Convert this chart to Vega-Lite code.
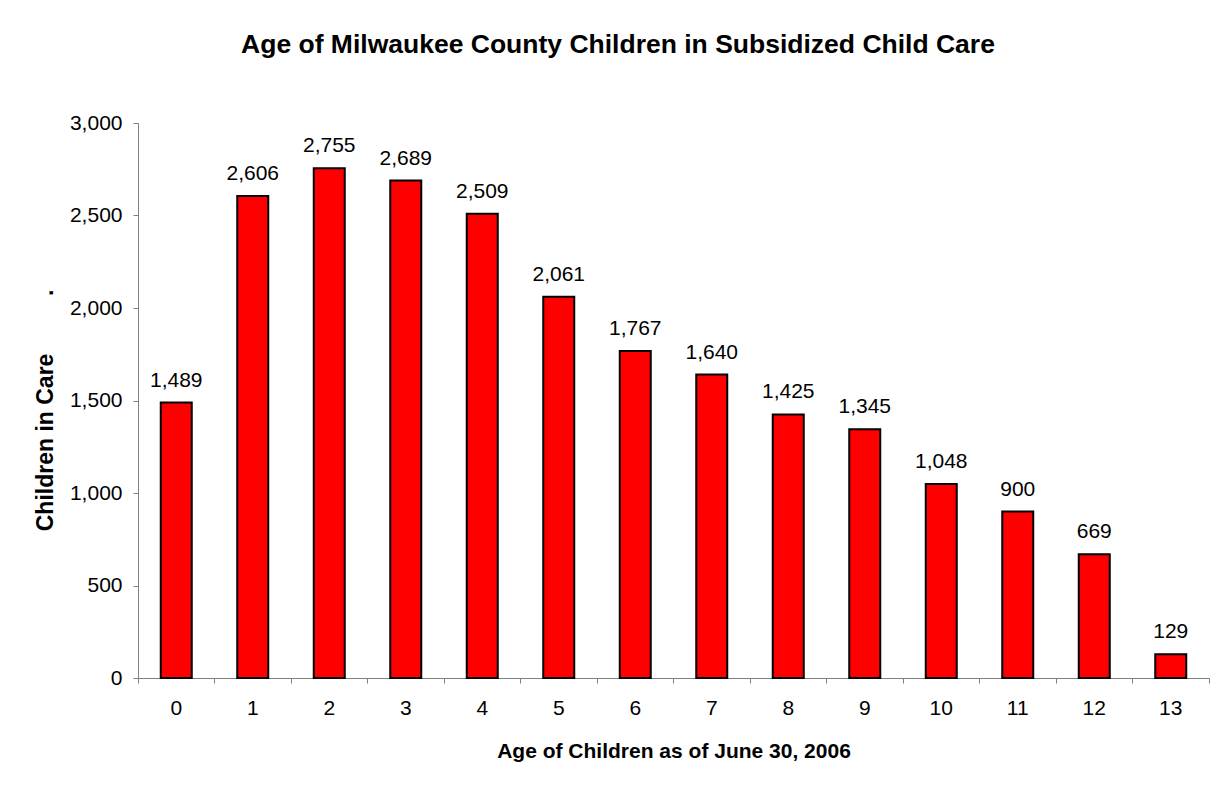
{
  "$schema": "https://vega.github.io/schema/vega-lite/v6.json",
  "autosize": {"type": "none"},
  "padding": {"left": 138, "top": 123, "right": 22, "bottom": 107},
  "width": 1071,
  "height": 555,
  "background": "white",
  "config": {
    "font": "Liberation Sans",
    "view": {"stroke": null},
    "axis": {
      "domainColor": "#808080",
      "tickColor": "#808080",
      "domainWidth": 1,
      "tickWidth": 1,
      "tickSize": 5,
      "labelFont": "Liberation Sans",
      "labelFontSize": 21,
      "labelColor": "black",
      "titleFont": "Liberation Sans",
      "titleFontSize": 21,
      "titleFontWeight": "bold",
      "titleColor": "black",
      "grid": false
    }
  },
  "title": {
    "text": "Age of Milwaukee County Children in Subsidized Child Care",
    "font": "Liberation Sans",
    "fontSize": 26.5,
    "fontWeight": "bold",
    "color": "black",
    "anchor": "middle",
    "frame": "bounds",
    "baseline": "alphabetic",
    "offset": 33,
    "dx": -4
  },
  "data": {
    "values": [
      {"age": 0, "children": 1489},
      {"age": 1, "children": 2606},
      {"age": 2, "children": 2755},
      {"age": 3, "children": 2689},
      {"age": 4, "children": 2509},
      {"age": 5, "children": 2061},
      {"age": 6, "children": 1767},
      {"age": 7, "children": 1640},
      {"age": 8, "children": 1425},
      {"age": 9, "children": 1345},
      {"age": 10, "children": 1048},
      {"age": 11, "children": 900},
      {"age": 12, "children": 669},
      {"age": 13, "children": 129}
    ]
  },
  "encoding": {
    "x": {
      "field": "age",
      "type": "ordinal",
      "scale": {"paddingInner": 0, "paddingOuter": 0},
      "axis": {
        "title": "Age of Children as of June 30, 2006",
        "labelAngle": 0,
        "labelPadding": 14,
        "titlePadding": 22,
        "bandPosition": 1,
        "tickExtra": true
      }
    },
    "y": {
      "field": "children",
      "type": "quantitative",
      "scale": {"domain": [0, 3000], "nice": false},
      "axis": {
        "title": "Children in Care\u00a0\u00a0\u00a0\u00a0\u00a0\u00a0\u00a0\u00a0\u00a0.",
        "titleFontSize": 23,
        "titleY": 287,
        "values": [0, 500, 1000, 1500, 2000, 2500, 3000],
        "format": ",.0f",
        "labelPadding": 11,
        "titlePadding": 12
      }
    }
  },
  "layer": [
    {
      "mark": {"type": "bar", "width": 31, "fill": "#FF0000", "stroke": "black", "strokeWidth": 2}
    },
    {
      "mark": {"type": "text", "baseline": "alphabetic", "dy": -16, "fontSize": 21, "font": "Liberation Sans", "color": "black"},
      "encoding": {
        "text": {"field": "children", "type": "quantitative", "format": ",.0f"}
      }
    }
  ]
}
